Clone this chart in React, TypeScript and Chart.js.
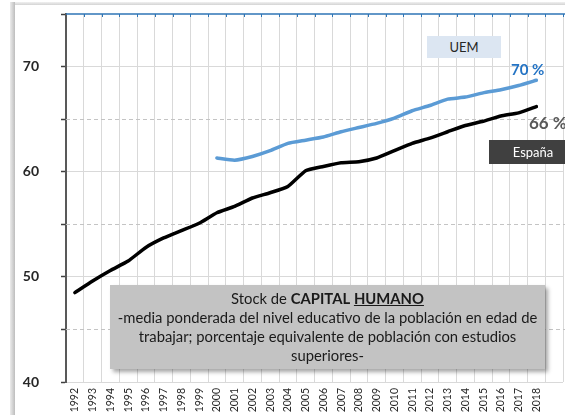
import React, { useEffect, useRef } from "react";
import { Chart, registerables } from "chart.js";

Chart.register(...registerables);

const years: string[] = [
  "1992", "1993", "1994", "1995", "1996", "1997", "1998", "1999", "2000",
  "2001", "2002", "2003", "2004", "2005", "2006", "2007", "2008", "2009",
  "2010", "2011", "2012", "2013", "2014", "2015", "2016", "2017", "2018", "",
];

const espana: (number | null)[] = [
  48.5, 49.6, 50.6, 51.5, 52.8, 53.7, 54.4, 55.1, 56.1,
  56.7, 57.5, 58.0, 58.6, 60.1, 60.5, 60.85, 60.95, 61.3,
  62.0, 62.7, 63.2, 63.8, 64.4, 64.8, 65.3, 65.6, 66.2, null,
];

const uem: (number | null)[] = [
  null, null, null, null, null, null, null, null, 61.3,
  61.1, 61.45, 62.0, 62.7, 63.0, 63.3, 63.8, 64.2, 64.6,
  65.1, 65.8, 66.3, 66.9, 67.1, 67.5, 67.8, 68.2, 68.7, null,
];

const yMin = 40;
const yMax = 75;
const yStep = 5;
const dashedLevels: number[] = [45, 55, 65];

const FONT = "Lato, 'Noto Sans', sans-serif";

const extrasPlugin = {
  id: "extras",
  beforeDatasetsDraw(chart: any) {
    const { ctx, chartArea, scales } = chart;
    ctx.save();
    ctx.strokeStyle = "#c4c4c4";
    ctx.lineWidth = 1;
    ctx.setLineDash([4, 3]);
    dashedLevels.forEach((v) => {
      const y = Math.round(scales.y.getPixelForValue(v)) + 0.5;
      ctx.beginPath();
      ctx.moveTo(chartArea.left, y);
      ctx.lineTo(chartArea.right + 2, y);
      ctx.stroke();
    });
    ctx.restore();
  },
  afterDraw(chart: any) {
    const { ctx, chartArea, scales } = chart;
    ctx.save();
    const top = chartArea.top;
    ctx.strokeStyle = "#2E75B6";
    ctx.lineWidth = 1.5;
    ctx.beginPath();
    ctx.moveTo(chartArea.left, top);
    ctx.lineTo(chartArea.right + 2, top);
    ctx.stroke();
    const xs = scales.x;
    const n = years.length;
    const w = (chartArea.right - chartArea.left) / n;
    ctx.lineWidth = 1;
    for (let i = 1; i <= n; i++) {
      const x = Math.round(xs.getPixelForValue(i - 1) + w / 2) + 0.5;
      ctx.beginPath();
      ctx.moveTo(x, top);
      ctx.lineTo(x, top + 3);
      ctx.stroke();
    }
    ctx.restore();
  },
};

export default function App() {
  const canvasRef = useRef<HTMLCanvasElement | null>(null);

  useEffect(() => {
    if (!canvasRef.current) return;
    const chart = new Chart(canvasRef.current, {
      type: "line",
      data: {
        labels: years,
        datasets: [
          {
            label: "UEM",
            data: uem,
            borderColor: "#5B9BD5",
            borderWidth: 3.5,
            pointRadius: 0,
            tension: 0.15,
            borderCapStyle: "round",
            borderJoinStyle: "round",
            spanGaps: false,
          },
          {
            label: "España",
            data: espana,
            borderColor: "#000000",
            borderWidth: 3.5,
            pointRadius: 0,
            tension: 0.15,
            borderCapStyle: "round",
            borderJoinStyle: "round",
            spanGaps: false,
          },
        ],
      },
      options: {
        responsive: false,
        animation: false,
        events: [],
        layout: { padding: { top: 14, right: 2, left: 0, bottom: 0 } },
        plugins: {
          legend: { display: false },
          tooltip: { enabled: false },
          title: { display: false },
        },
        scales: {
          x: {
            type: "category",
            offset: true,
            grid: {
              offset: true,
              color: "#d9d9d9",
              lineWidth: 1,
              drawTicks: false,
            },
            border: { display: false },
            ticks: {
              autoSkip: false,
              minRotation: 90,
              maxRotation: 90,
              padding: 6,
              color: "#262626",
              font: { family: FONT, size: 10.5 },
            },
            afterFit: (scale: any) => {
              scale.height = 33;
              scale.paddingLeft = 0;
              scale.paddingRight = 0;
            },
          },
          y: {
            min: yMin,
            max: yMax,
            grid: {
              color: (ctx: any) => {
                const v = ctx.tick ? ctx.tick.value : null;
                if (v === null) return "transparent";
                if (v === yMax) return "transparent";
                return v % 10 === 0 ? "#d9d9d9" : "transparent";
              },
              lineWidth: 1,
              drawTicks: true,
              tickLength: 5,
              tickColor: "#404040",
              tickWidth: 1.5,
            },
            border: { display: true, color: "#595959", width: 2 },
            ticks: {
              stepSize: yStep,
              padding: 22,
              color: "#262626",
              font: { family: FONT, size: 14, weight: "bold" },
              callback: (v: any) => (Number(v) % 10 === 0 ? String(v) : ""),
            },
            afterFit: (scale: any) => {
              scale.width = 66;
              scale.paddingTop = 0;
              scale.paddingBottom = 0;
            },
          },
        },
      },
      plugins: [extrasPlugin],
    });
    return () => chart.destroy();
  }, []);

  return (
    <div
      style={{
        position: "fixed",
        left: 0,
        top: 0,
        width: 565,
        height: 415,
        overflow: "hidden",
        background: "#ffffff",
        fontFamily: FONT,
      }}
    >
      <canvas
        ref={canvasRef}
        width={565}
        height={415}
        style={{ position: "absolute", left: 0, top: 0, width: 565, height: 415 }}
      />
      {/* frame */}
      <div
        style={{
          position: "absolute",
          left: 10,
          top: 2,
          width: 555,
          height: 3,
          background: "linear-gradient(to bottom, #f0f0f0, #d4d4d4)",
        }}
      />
      <div
        style={{
          position: "absolute",
          left: 10,
          top: 2,
          width: 5,
          height: 413,
          background: "linear-gradient(to right, #ececec, #bdbdbd)",
        }}
      />
      {/* UEM label */}
      <div
        style={{
          position: "absolute",
          left: 427,
          top: 36,
          width: 74,
          height: 22,
          background: "#DCE6F2",
          color: "#262626",
          fontSize: 13,
          lineHeight: "22px",
          textAlign: "center",
        }}
      >
        UEM
      </div>
      <div
        style={{
          position: "absolute",
          left: 511,
          top: 59,
          color: "#2373C4",
          fontSize: 15,
          fontWeight: "bold",
          lineHeight: "20px",
          whiteSpace: "nowrap",
        }}
      >
        70 %
      </div>
      <div
        style={{
          position: "absolute",
          left: 529,
          top: 112,
          color: "#595959",
          fontSize: 17,
          fontWeight: "bold",
          lineHeight: "22px",
          whiteSpace: "nowrap",
        }}
      >
        66 %
      </div>
      <div
        style={{
          position: "absolute",
          left: 489,
          top: 140,
          width: 88,
          height: 24,
          background: "#404040",
          color: "#ffffff",
          fontSize: 13,
          lineHeight: "24px",
          textAlign: "center",
        }}
      >
        España
      </div>
      {/* description box */}
      <div
        style={{
          position: "absolute",
          left: 110,
          top: 285,
          width: 435,
          height: 84,
          background: "#C3C3C3",
          boxShadow: "3px 3px 4px rgba(0,0,0,0.35)",
          color: "#1a1a1a",
          fontSize: 14.8,
          lineHeight: "19px",
          textAlign: "center",
          whiteSpace: "nowrap",
          paddingTop: 4,
          boxSizing: "border-box",
        }}
      >
        Stock de <b>CAPITAL</b> <b style={{ textDecoration: "underline" }}>HUMANO</b>
        <br />
        -media ponderada del nivel educativo de la población en edad de
        <br />
        trabajar; porcentaje equivalente de población con estudios
        <br />
        superiores-
      </div>
    </div>
  );
}
